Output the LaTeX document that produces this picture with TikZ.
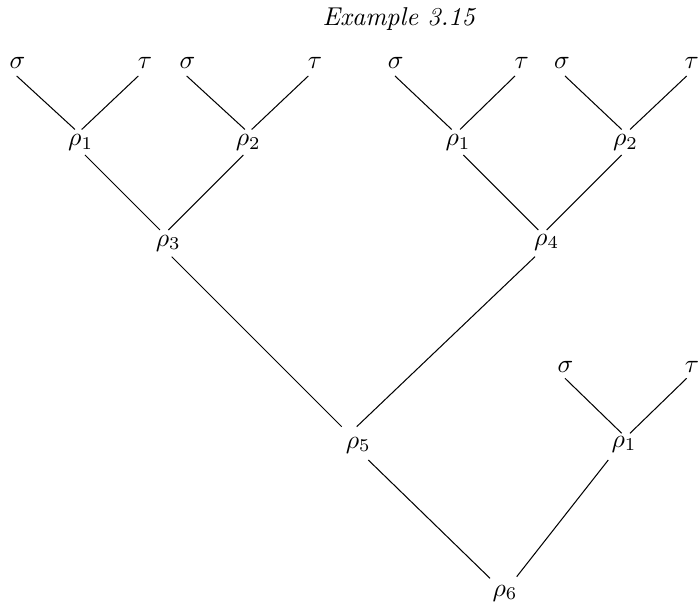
\documentclass[tikz,border=0pt]{standalone}
\usetikzlibrary{calc}
\begin{document}
\begin{tikzpicture}[x=0.3876pt,y=-0.3876pt,
  lbl/.style={inner sep=0pt},
  edge/.style={draw=black,line width=0.4pt}]
\useasboundingbox (0,0) rectangle (698,610);
\node[lbl] (title) at (399.5,19) {\textit{Example 3.15}};
% leaves
\node[lbl] (s1) at (17.5,63) {$\sigma$};
\node[lbl] (t1) at (145,63) {$\tau$};
\node[lbl] (s2) at (187.5,63) {$\sigma$};
\node[lbl] (t2) at (315,63) {$\tau$};
\node[lbl] (s3) at (395.8,63) {$\sigma$};
\node[lbl] (t3) at (521.7,63) {$\tau$};
\node[lbl] (s4) at (562,63) {$\sigma$};
\node[lbl] (t4) at (691.7,63) {$\tau$};
\node[lbl] (s5) at (565.5,367) {$\sigma$};
\node[lbl] (t5) at (692,367) {$\tau$};
% inner
\node[lbl] (a1) at (80.7,142.5) {$\rho_1$};
\node[lbl] (a2) at (248.3,142.5) {$\rho_2$};
\node[lbl] (b1) at (458,142.5) {$\rho_1$};
\node[lbl] (b2) at (625.5,142.5) {$\rho_2$};
\node[lbl] (r3) at (168.3,243) {$\rho_3$};
\node[lbl] (r4) at (546.7,242) {$\rho_4$};
\node[lbl] (r5) at (358.3,445) {$\rho_5$};
\node[lbl] (c1) at (624,444) {$\rho_1$};
\node[lbl] (r6) at (505,593) {$\rho_6$};
% edges
\draw[edge] ($(s1)+(-0.8,13)$) -- ($(a1)+(-5.7,-13)$);
\draw[edge] ($(t1)+(-6.7,13)$) -- ($(a1)+(1,-13)$);
\draw[edge] ($(s2)+(-0.8,13)$) -- ($(a2)+(-3.3,-13)$);
\draw[edge] ($(t2)+(-6.7,13)$) -- ($(a2)+(3.4,-13)$);
\draw[edge] ($(s3)+(-0.8,13)$) -- ($(b1)+(-6.3,-13)$);
\draw[edge] ($(t3)+(-6.7,13)$) -- ($(b1)+(2,-13)$);
\draw[edge] ($(s4)+(3,13)$) -- ($(b2)+(-3.8,-13)$);
\draw[edge] ($(t4)+(-5,13)$) -- ($(b2)+(4.5,-13)$);
\draw[edge] ($(a1)+(4.3,12.5)$) -- ($(r3)+(-8.3,-13)$);
\draw[edge] ($(a2)+(-5,12.5)$) -- ($(r3)+(0,-13)$);
\draw[edge] ($(b1)+(5.3,12.5)$) -- ($(r4)+(-8.4,-12)$);
\draw[edge] ($(b2)+(-3.8,12.5)$) -- ($(r4)+(0,-12)$);
\draw[edge] ($(r3)+(3.4,13.7)$) -- ($(r5)+(-16.6,-18.3)$);
\draw[edge] ($(r4)+(-11.7,14.7)$) -- ($(r5)+(-1.6,-18.3)$);
\draw[edge] ($(s5)+(-0.5,11.3)$) -- ($(c1)+(-2.3,-10.7)$);
\draw[edge] ($(t5)+(-5.3,11.3)$) -- ($(c1)+(6,-10.7)$);
\draw[edge] ($(r5)+(10,15)$) -- ($(r6)+(-15,-14.7)$);
\draw[edge] ($(c1)+(-15.7,16)$) -- ($(r6)+(11.7,-16.3)$);
\end{tikzpicture}
\end{document}
